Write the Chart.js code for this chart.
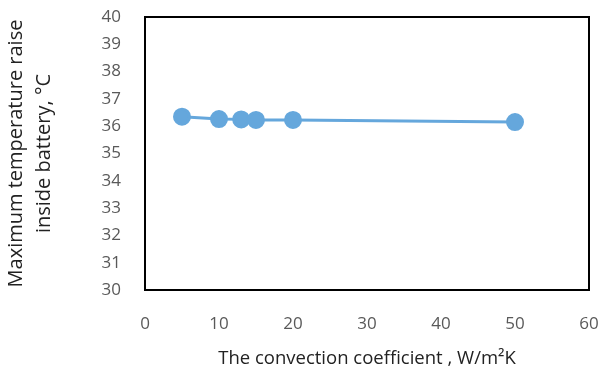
<!DOCTYPE html>
<html>
<head>
<meta charset="utf-8">
<script src="https://cdn.jsdelivr.net/npm/chart.js@4"></script>
<style>
  html,body{margin:0;padding:0;background:#fff;}
  #wrap{width:601px;height:374px;position:relative;}
</style>
</head>
<body>
<div id="wrap"><canvas id="c"></canvas></div>
<script>
// values
const coeffs = [5, 10, 13, 15, 20, 50];
const maxTemp = [36.35, 36.26, 36.25, 36.23, 36.23, 36.15];
const xTitle = 'The convection coefficient , W/m\u00B2K';
const yTitle = ['Maximum temperature raise', 'inside battery, \u00B0C'];

const boxPlugin = {
  id: 'box',
  afterDraw(chart){
    const a = chart.chartArea, c = chart.ctx;
    c.save();
    c.strokeStyle = '#000'; c.lineWidth = 2;
    c.strokeRect(a.left, a.top, a.right - a.left, a.bottom - a.top);
    c.restore();
  }
};

new Chart(document.getElementById('c'), {
  type: 'scatter',
  data: {
    datasets: [{
      data: coeffs.map((x, i) => ({ x, y: maxTemp[i] })),
      showLine: true,
      borderColor: '#65a7dc',
      backgroundColor: '#65a7dc',
      borderWidth: 3,
      pointRadius: 7.5,
      pointHoverRadius: 7.5
    }]
  },
  options: {
    responsive: true, maintainAspectRatio: false,
    animation: false,
    layout: { padding: { top: 17, right: 12, left: 0, bottom: 0 } },
    plugins: { legend: { display: false }, tooltip: { enabled: false } },
    scales: {
      x: {
        type: 'linear', min: 0, max: 60,
        ticks: { stepSize: 10, color: '#595959', padding: 24, font: { family: 'Open Sans', size: 17 } },
        grid: { display: false, drawTicks: false },
        border: { color: '#000', width: 2 },
        title: { display: true, text: xTitle, color: '#222', font: { family: 'Open Sans', size: 18.5 }, padding: { top: 8 } },
        afterFit(s){ s.height = 84; s.paddingLeft = 0; s.paddingRight = 0; }
      },
      y: {
        min: 30, max: 40,
        ticks: { stepSize: 1, color: '#595959', padding: 24, font: { family: 'Open Sans', size: 17 } },
        grid: { display: false, drawTicks: false },
        border: { color: '#000', width: 2 },
        title: { display: true, text: yTitle, color: '#222', font: { family: 'Open Sans', size: 20, lineHeight: 1.4 }, padding: { top: 2, bottom: 0 } },
        afterFit(s){ s.width = 145; s.paddingTop = 0; s.paddingBottom = 0; }
      }
    }
  },
  plugins: [boxPlugin]
});
</script>
</body>
</html>
